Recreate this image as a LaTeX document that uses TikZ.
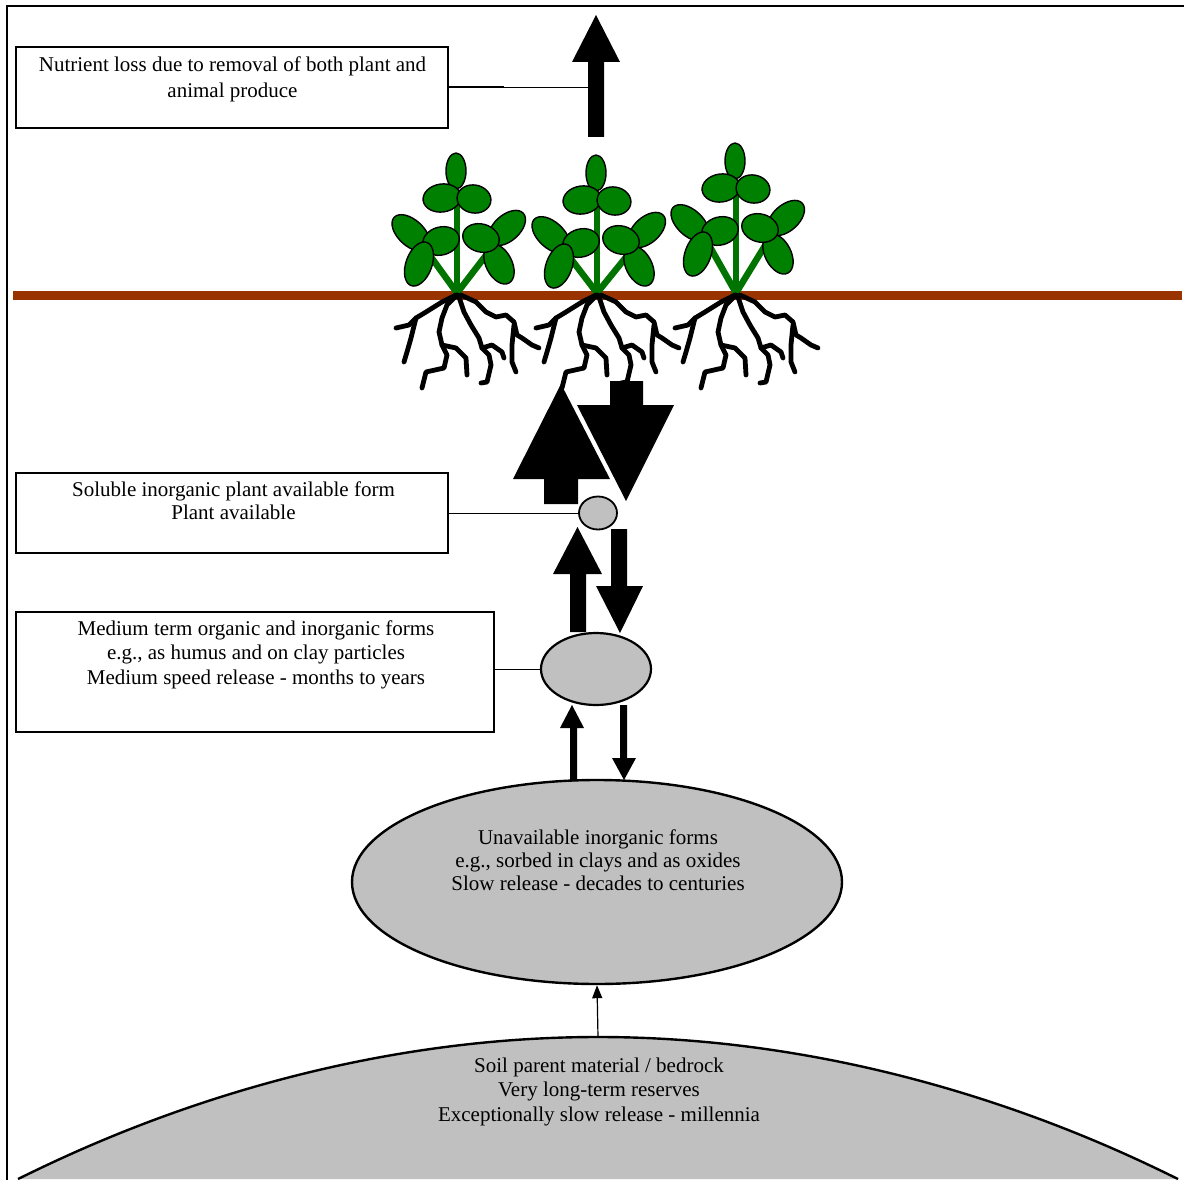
\documentclass[tikz,border=0pt]{standalone}
\usepackage{fontspec}
\setmainfont{Liberation Serif}
\usetikzlibrary{shapes.geometric,arrows.meta}
\definecolor{soil}{HTML}{993300}
\definecolor{leafgreen}{HTML}{008000}
\definecolor{stemgreen}{HTML}{007300}
\definecolor{poolgray}{HTML}{C0C0C0}
\tikzset{
  labelbox/.style={draw, line width=1.6pt, rectangle, inner sep=0pt},
  ln/.style={anchor=base, inner sep=0pt, font=\fontsize{21}{25}\selectfont},
  pool/.style={ellipse, draw, fill=poolgray, inner sep=0pt},
  blockarrow/.style={fill=black},
  leaf/.style={fill=leafgreen, draw=black, line width=1.4pt},
  rootline/.style={draw=black, line width=4.8pt, line join=round, line cap=round},
  stemline/.style={draw=stemgreen, line width=6.5pt},
  plant/.pic={
    \draw[stemline] (0,2) -- (0,{-100-#1});
    \draw[stemline] (0,0) -- (-26,{-36-#1});
    \draw[stemline] (0,0) -- (30,{-39-#1});
    \begin{scope}[yshift=#1pt]
    \draw[leaf] (-1,-122) ellipse (10 and 18);
    \draw[leaf,rotate around={8:(-15,-95)}] (-15,-95) ellipse (19 and 14);
    \draw[leaf,rotate around={-10:(17,-94)}] (17,-94) ellipse (17 and 14);
    \draw[leaf,rotate around={-43:(-46,-60)}] (-46,-60) ellipse (23 and 13);
    \draw[leaf,rotate around={15:(-16,-52)}] (-16,-52) ellipse (18.5 and 14);
    \draw[leaf,rotate around={70:(-38,-29)}] (-38,-29) ellipse (23 and 13);
    \draw[leaf,rotate around={42:(50,-65)}] (50,-65) ellipse (22 and 13);
    \draw[leaf,rotate around={-63:(42,-29)}] (42,-29) ellipse (21.5 and 13);
    \draw[leaf,rotate around={-15:(24,-55)}] (24,-55) ellipse (18.5 and 14);
    \end{scope}
    % roots
    \draw[rootline] (-1,2) -- (-15,9) -- (-31,19) -- (-41,25) -- (-48,32) -- (-61,35);
    \draw[rootline] (-41,25) -- (-46,45) -- (-50,59) -- (-53,69);
    \draw[rootline] (0,2) -- (-10,12) -- (-15,25) -- (-18,39) -- (-15,52) -- (-10,62) -- (-13,75) -- (-31,79) -- (-35,95);
    \draw[rootline] (-15,52) -- (-1,55) -- (9,65) -- (10,82);
    \draw[rootline] (2,4) -- (7,19) -- (14,32) -- (22,45) -- (25,55) -- (32,62) -- (34,72) -- (30,89) -- (24,90);
    \draw[rootline] (25,55) -- (35,52) -- (45,59) -- (47,65);
    \draw[rootline] (4,2) -- (19,9) -- (29,19) -- (39,24) -- (49,22) -- (57,29) -- (60,42) -- (65,45) -- (75,52) -- (82,55);
    \draw[rootline] (57,32) -- (55,52) -- (55,69) -- (59,79);
  }
}
\begin{document}
\begin{tikzpicture}[x=1pt,y=-1pt]
\useasboundingbox (0,0) rectangle (1184,1180);
% frame
\draw[line width=1.8pt] (7,1180) -- (7,6) -- (1184,6);

% bedrock dome
\fill[poolgray] (18,1179) parabola bend (598,1037) (1178,1179) -- cycle;
\draw[line width=2.4pt] (18,1179) parabola bend (598,1037) (1178,1179);
\coordinate (dometop) at (598,1037);

% soil surface
\draw[soil, line width=9pt] (13,295.5) -- (1182,295.5);

% plants
\pic at (457,293) {plant=0};
\pic at (597,293) {plant=-2};
\pic at (736,293) {plant=10};

% top loss arrow
\fill[blockarrow] (588,137) -- (588,62) -- (572,62) -- (596,15) -- (620,62) -- (604,62) -- (604,137) -- cycle;
\coordinate (lossarrow) at (588,87);

% big uptake/return arrows
\fill[blockarrow] (544,504) -- (544,479) -- (513,479) -- (561,384) -- (610,479) -- (578,479) -- (578,504) -- cycle;
\fill[blockarrow] (610,381) -- (643,381) -- (643,405) -- (674,405) -- (626,501) -- (577,405) -- (610,405) -- cycle;

% pools
\node[pool, line width=1.8pt, minimum width=38pt, minimum height=33pt] (soluble) at (598,513) {};
\node[pool, line width=2.2pt, minimum width=110pt, minimum height=72pt] (medium) at (596,669) {};
\node[pool, line width=2.4pt, minimum width=490pt, minimum height=204pt] (unavail) at (597,882) {};

% medium arrows
\fill[blockarrow] (570,632) -- (570,574) -- (553,574) -- (577.5,527) -- (602,574) -- (586,574) -- (586,632) -- cycle;
\fill[blockarrow] (611,529) -- (627,529) -- (627,586) -- (643,586) -- (620,633) -- (596,586) -- (611,586) -- cycle;

% lower arrows
\fill[blockarrow] (570,781) -- (570,728) -- (560,728) -- (572,705) -- (584,728) -- (577,728) -- (577,781) -- cycle;
\fill[blockarrow] (620,705) -- (627,705) -- (627,758) -- (636,758) -- (624,780) -- (612,758) -- (620,758) -- cycle;

% bedrock to unavailable
\draw[line width=1.2pt, -{Triangle[length=13pt,width=10pt]}] (dometop) -- (unavail.south);

% label boxes
\node[labelbox, minimum width=432pt, minimum height=81pt] (lossbox) at (232,87.5) {};
\node[labelbox, minimum width=432pt, minimum height=80pt] (solbox) at (232,513) {};
\node[labelbox, minimum width=478pt, minimum height=120pt] (medbox) at (255,672) {};

% connectors
\draw[line width=1.8pt] (lossbox.east |- lossarrow) -- ++(55,0) coordinate (lossmid);
\draw[line width=0.9pt] (lossmid) -- (lossarrow);
\draw[line width=0.9pt] (solbox.east) -- (soluble.west);
\draw[line width=0.9pt] (medbox.east |- medium.west) -- (medium.west);

% texts
\node[ln] (l1a) at (232.5,72) {Nutrient loss due to removal of both plant and};
\node[ln] (l1b) at (232.5,98) {animal produce};
\node[ln] (l2a) at (233.5,496) {Soluble inorganic plant available form};
\node[ln] (l2b) at (233.5,519) {Plant available};
\node[ln] (l3a) at (256,635) {Medium term organic and inorganic forms};
\node[ln] (l3b) at (256,659.5) {e.g., as humus and on clay particles};
\node[ln] (l3c) at (256,684) {Medium speed release - months to years};
\node[ln] (l4a) at (598,844) {Unavailable inorganic forms};
\node[ln] (l4b) at (598,867) {e.g., sorbed in clays and as oxides};
\node[ln] (l4c) at (598,890) {Slow release - decades to centuries};
\node[ln] (l5a) at (599,1072) {Soil parent material / bedrock};
\node[ln] (l5b) at (599,1096) {Very long-term reserves};
\node[ln] (l5c) at (599,1121) {Exceptionally slow release - millennia};
\end{tikzpicture}
\end{document}
